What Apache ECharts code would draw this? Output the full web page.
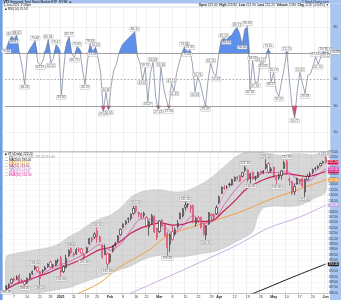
<!DOCTYPE html>
<html><head><meta charset="utf-8">
<script src="https://cdn.jsdelivr.net/npm/echarts@6/dist/echarts.min.js"></script>
<style>html,body{margin:0;padding:0;background:#fff}#c{width:341px;height:300px}</style>
</head><body><div id="c"></div>
<script>
const dates = [
'2020-12-02','2020-12-03','2020-12-04','2020-12-07','2020-12-08','2020-12-09','2020-12-10','2020-12-11','2020-12-14','2020-12-15','2020-12-16','2020-12-17','2020-12-18','2020-12-21','2020-12-22','2020-12-23','2020-12-24','2020-12-28','2020-12-29','2020-12-30','2020-12-31',
'2021-01-04','2021-01-05','2021-01-06','2021-01-07','2021-01-08','2021-01-11','2021-01-12','2021-01-13','2021-01-14','2021-01-15','2021-01-19','2021-01-20','2021-01-21','2021-01-22','2021-01-25','2021-01-26','2021-01-27','2021-01-28','2021-01-29',
'2021-02-01','2021-02-02','2021-02-03','2021-02-04','2021-02-05','2021-02-08','2021-02-09','2021-02-10','2021-02-11','2021-02-12','2021-02-16','2021-02-17','2021-02-18','2021-02-19','2021-02-22','2021-02-23','2021-02-24','2021-02-25','2021-02-26',
'2021-03-01','2021-03-02','2021-03-03','2021-03-04','2021-03-05','2021-03-08','2021-03-09','2021-03-10','2021-03-11','2021-03-12','2021-03-15','2021-03-16','2021-03-17','2021-03-18','2021-03-19','2021-03-22','2021-03-23','2021-03-24','2021-03-25','2021-03-26','2021-03-29','2021-03-30','2021-03-31',
'2021-04-01','2021-04-05','2021-04-06','2021-04-07','2021-04-08','2021-04-09','2021-04-12','2021-04-13','2021-04-14','2021-04-15','2021-04-16','2021-04-19','2021-04-20','2021-04-21','2021-04-22','2021-04-23','2021-04-26','2021-04-27','2021-04-28','2021-04-29','2021-04-30',
'2021-05-03','2021-05-04','2021-05-05','2021-05-06','2021-05-07','2021-05-10','2021-05-11','2021-05-12','2021-05-13','2021-05-14','2021-05-17','2021-05-18','2021-05-19','2021-05-20','2021-05-21','2021-05-24','2021-05-25','2021-05-26','2021-05-27','2021-05-28',
'2021-06-01'];

const tickLabels = {'2020-12-07':'7','2020-12-14':'14','2020-12-21':'21','2020-12-28':'28','2021-01-04':'2021','2021-01-11':'11','2021-01-19':'19','2021-01-25':'25','2021-02-01':'Feb','2021-02-08':'8','2021-02-16':'16','2021-02-22':'22','2021-03-01':'Mar','2021-03-08':'8','2021-03-15':'15','2021-03-22':'22','2021-03-29':'29','2021-04-01':'Apr','2021-04-12':'12','2021-04-19':'19','2021-04-26':'26','2021-05-03':'May','2021-05-10':'10','2021-05-17':'17','2021-05-24':'24','2021-06-01':'Jun'};

const opens = [
187.2,187.8,188.7,189.9,189.9,190.8,189.5,189.2,188.8,190.1,
191.4,192.6,193.1,190.0,192.0,192.5,193.3,194.6,193.8,193.7,
195.0,195.6,191.9,193.0,196.3,198.3,196.5,196.9,198.1,198.2,
196.6,197.2,199.6,201.2,201.5,203.2,201.5,199.0,196.6,196.9,
194.7,197.6,199.3,200.3,202.1,204.2,205.2,206.4,206.6,208.0,
209.9,207.9,207.9,208.0,206.9,204.2,205.3,207.1,203.8,203.0,
206.2,204.9,202.2,199.5,203.0,202.3,204.5,206.6,207.3,209.7,
210.5,210.0,210.2,205.2,206.7,206.9,205.0,202.0,205.1,207.8,
207.6,207.9,211.0,213.6,215.1,215.3,216.0,215.9,217.1,218.0,
218.4,218.3,219.9,220.0,217.6,219.4,217.9,218.0,219.6,219.3,
220.6,221.8,219.8,220.7,217.9,217.8,218.5,220.5,222.4,217.2,
216.8,214.0,216.2,217.3,217.6,213.9,217.4,218.9,219.4,220.5,
220.6,221.2,222.0,223.4];
const closes = [
187.9,188.3,189.8,189.6,190.4,189.1,189.0,188.4,190.0,191.3,
191.9,193.2,192.1,191.8,192.2,193.0,194.0,193.2,193.5,194.8,
195.0,191.8,193.3,195.6,197.8,197.2,196.7,198.0,197.9,197.0,
196.1,198.5,201.0,200.7,202.3,201.6,200.4,195.9,197.8,194.0,
196.6,198.9,199.7,201.8,203.6,205.0,205.9,206.6,207.8,209.4,
208.7,208.2,206.9,207.5,204.6,205.8,207.4,202.9,201.4,205.9,
204.6,201.9,198.6,202.2,200.8,203.5,205.3,208.0,209.3,210.3,
210.4,209.4,205.6,206.6,206.0,204.2,202.2,204.6,208.2,207.4,
207.0,209.6,212.6,215.2,215.0,215.3,216.1,217.4,218.0,217.8,
216.9,219.3,220.6,217.3,219.0,217.6,217.7,219.3,219.2,219.7,
221.5,219.5,220.3,218.4,217.3,218.6,219.8,222.0,219.0,217.4,
213.6,215.5,217.6,216.8,215.6,217.4,218.3,218.6,220.1,220.4,
221.0,221.8,222.3,222.2];
const lows = [
186.9,187.4,188.5,189.1,189.6,188.8,188.6,188.0,188.5,189.8,
191.0,192.3,191.7,188.2,191.4,192.2,193.0,192.9,192.8,193.5,
194.3,190.6,191.5,192.8,196.0,196.7,195.9,196.5,197.3,196.7,
195.3,197.0,199.4,200.0,201.0,199.8,199.9,195.5,196.5,192.8,
194.2,197.3,198.8,200.1,201.9,203.9,204.8,205.4,206.1,207.7,
208.2,206.9,206.4,206.8,204.1,201.9,205.0,202.6,200.6,202.6,
204.3,201.6,196.3,197.3,200.4,201.9,203.9,206.4,207.0,208.9,
209.6,208.2,205.3,204.3,205.4,203.8,201.9,200.7,204.8,206.2,
206.2,207.6,210.6,213.4,214.5,214.8,215.4,215.7,216.8,217.3,
216.7,218.0,219.5,216.6,216.3,217.3,217.0,217.8,218.8,218.9,
220.2,219.0,219.2,217.9,216.0,217.3,217.4,220.3,218.7,215.8,
213.2,213.1,216.0,216.1,215.3,212.6,217.1,218.1,218.9,219.9,
220.2,221.1,221.8,221.9];
const highs = [
188.2,188.7,190.0,190.3,190.9,191.2,189.9,189.6,190.3,191.5,
192.2,193.6,193.3,192.1,192.6,193.5,194.2,194.9,194.0,195.1,
195.5,196.3,193.7,196.6,198.0,198.6,197.3,198.4,198.6,198.5,
196.9,198.8,201.3,201.5,202.8,204.1,201.9,199.3,199.4,197.0,
196.9,199.2,200.2,202.0,203.8,205.3,206.1,206.9,208.0,210.1,
210.2,208.5,208.2,208.5,207.3,206.0,207.9,207.5,204.0,206.1,
206.4,205.1,203.0,202.5,204.6,204.1,206.2,208.3,209.5,211.2,
210.9,210.5,210.4,206.9,207.3,207.1,205.3,204.8,208.4,208.0,
208.0,210.3,212.9,215.5,215.8,215.8,216.5,217.6,218.2,218.4,
218.6,219.5,221.1,220.2,219.3,219.6,218.4,219.6,219.8,220.0,
223.0,222.2,220.8,221.0,218.2,219.0,220.0,222.6,222.8,218.0,
217.0,216.3,217.9,217.5,217.8,217.6,219.0,219.5,220.4,220.9,
221.3,222.1,222.6,223.8];

const rsi = [
73.52,79.14,82.55,80.87,83.61,70.12,60.33,46.28,68.41,73.06,
76.22,79.48,62.87,61.15,64.30,72.18,80.34,62.55,66.07,76.41,
74.12,38.46,60.25,78.03,82.37,69.31,66.72,74.85,73.16,58.44,
46.19,64.27,76.94,71.08,74.43,66.35,55.12,25.87,40.36,26.95,
45.22,57.18,61.40,70.05,75.33,78.11,80.24,82.06,84.17,86.31,
67.94,62.18,49.65,58.92,33.27,55.14,63.08,36.21,27.43,59.36,
44.12,35.08,27.96,47.15,41.33,55.27,63.12,70.18,74.86,71.04,
72.31,62.15,40.58,51.76,47.20,38.12,29.47,50.13,62.25,55.08,
52.43,68.17,80.05,81.22,80.14,82.36,83.48,87.12,89.71,85.07,
76.52,88.14,90.63,42.18,64.05,47.31,48.02,63.17,62.08,66.23,
73.45,48.27,55.19,41.06,37.22,48.13,58.04,71.25,50.17,30.08,
20.71,41.36,55.42,47.11,39.28,53.07,54.16,60.03,67.14,61.52,
67.05,70.86,70.12,70.53];

// Bollinger band edges read at sampled bars [barIndex, value]
const bbUpper = [[0,196.0],[4,197.0],[8,197.5],[12,198.0],[16,198.5],[20,199.5],[24,201.5],[28,203.0],[32,205.0],[36,206.5],[40,207.5],[44,209.5],[48,212.5],[52,214.0],[56,214.5],[60,214.5],[64,214.0],[68,214.0],[72,215.0],[76,216.5],[80,218.5],[84,221.0],[88,223.5],[92,225.0],[95,225.3],[97,225.2],[99,224.8],[102,224.5],[106,224.0],[110,224.5],[114,224.5],[118,224.2],[123,224.8]];
const bbLower = [[0,184.0],[4,184.5],[8,185.5],[12,186.0],[16,186.5],[20,187.0],[24,187.5],[28,188.5],[32,189.5],[36,190.5],[40,191.5],[44,192.5],[48,193.5],[52,195.0],[56,196.0],[60,196.5],[64,196.0],[68,196.0],[72,196.5],[76,197.0],[80,197.5],[84,198.5],[88,200.0],[92,201.5],[95,203.0],[97,207.5],[99,209.5],[102,210.0],[106,210.0],[110,210.0],[114,210.5],[118,212.0],[123,214.0]];
const ma20 = [[0,187.0],[4,188.5],[8,189.5],[12,190.5],[16,191.5],[20,192.8],[24,193.8],[28,195.0],[32,196.5],[36,198.0],[40,198.6],[44,200.3],[48,202.5],[52,204.0],[56,205.0],[60,205.3],[64,204.8],[68,205.0],[72,205.8],[76,205.8],[80,206.3],[84,208.8],[88,211.5],[92,214.5],[96,216.3],[100,217.6],[104,218.4],[108,219.0],[112,218.6],[116,218.2],[120,218.9],[123,219.6]];
const ema10 = [[0,187.0],[4,188.8],[8,189.2],[12,190.6],[16,192.2],[20,193.6],[24,194.6],[28,196.0],[32,197.6],[36,199.4],[40,197.8],[44,199.5],[48,203.4],[52,206.5],[56,206.4],[60,205.0],[64,202.5],[68,204.6],[72,207.4],[76,205.3],[80,206.0],[84,210.5],[88,214.3],[92,217.3],[96,218.2],[100,219.3],[104,219.3],[108,219.6],[112,217.6],[116,216.9],[120,218.8],[123,220.3]];
const ema5 = [[0,187.4],[2,188.6],[4,189.6],[6,189.5],[8,189.3],[10,190.6],[12,191.6],[14,192.0],[16,193.0],[18,193.3],[20,194.3],[22,193.4],[24,195.5],[26,196.7],[28,197.5],[30,196.8],[32,199.0],[34,201.0],[36,200.9],[38,198.0],[40,196.6],[42,198.6],[44,201.8],[46,204.3],[48,206.4],[50,208.2],[52,207.8],[54,206.2],[56,206.3],[58,203.8],[60,204.3],[62,201.0],[64,201.2],[66,203.5],[68,207.0],[70,209.4],[72,207.6],[74,206.2],[76,203.8],[78,205.6],[80,206.9],[82,210.2],[84,213.6],[86,215.2],[88,216.9],[90,217.1],[92,219.0],[94,218.4],[96,218.0],[98,218.8],[100,220.3],[102,220.1],[104,218.3],[106,219.0],[108,219.7],[110,216.3],[112,216.2],[114,216.1],[116,217.0],[118,218.9],[120,220.1],[122,221.5],[123,221.8]];
const ma50 = [[0,180.0],[10,182.0],[20,184.0],[26,185.4],[36,188.8],[43,192.9],[55,197.9],[62,201.8],[74,204.8],[89,208.1],[101,211.7],[112,214.5],[123,217.3]];
const ma100 = [[0,172.0],[20,178.0],[35,182.5],[46,185.4],[62,190.4],[74,194.3],[89,199.3],[101,204.0],[113,207.0],[123,210.3]];
const ma200 = [[80,181.6],[92,185.0],[100,187.3],[110,190.3],[123,194.0]];

const FONT = 'Liberation Sans, Arial, sans-serif';
const N = dates.length;
const last = N - 1;
const isTick = (idx, val) => tickLabels[val !== undefined ? val : dates[idx]] !== undefined;
const tickInt = (idx) => tickLabels[dates[idx]] !== undefined;

const candleData = dates.map((d, i) => {
  const prev = i > 0 ? closes[i - 1] : opens[i];
  const col = closes[i] >= prev ? '#111111' : '#d3143c';
  return { value: [opens[i], closes[i], lows[i], highs[i]],
    itemStyle: { color: '#ffffff', color0: col, borderColor: col, borderColor0: col, borderWidth: 0.6 } };
});

function localExt(arr, w, isMax) {
  const out = [];
  for (let i = 0; i < arr.length; i++) {
    let ok = true;
    for (let j = Math.max(0, i - w); j <= Math.min(arr.length - 1, i + w); j++) {
      if (j === i) continue;
      if (isMax ? (arr[j] > arr[i] || (arr[j] === arr[i] && j < i)) : (arr[j] < arr[i] || (arr[j] === arr[i] && j < i))) { ok = false; break; }
    }
    if (ok) out.push([i, arr[i]]);
  }
  return out;
}
const priceHighPts = localExt(highs, 4, true);
const priceLowPts = localExt(lows, 4, false);
const rsiMaxPts = localExt(rsi, 1, true);
const rsiMinPts = localExt(rsi, 1, false);

const boxLabel = (pos) => ({ show: true, position: pos, distance: 0.8, fontSize: 3.2, fontFamily: FONT, color: '#333',
  backgroundColor: '#ffffff', borderColor: '#9a9a9a', borderWidth: 0.4, padding: [0.5, 0.7, 0.2, 0.7],
  formatter: p => p.value[1].toFixed(2) });

function lineSeries(name, data, color, width) {
  return { name, type: 'line', xAxisIndex: 2, yAxisIndex: 1, data, symbol: 'none', smooth: 0.3,
    lineStyle: { color, width }, silent: true, z: 3,
    endLabel: { show: true, distance: 2.2, fontSize: 3.2, fontFamily: FONT, color: '#fff', backgroundColor: color,
      padding: [0.5, 0.6, 0.2, 0.6], formatter: p => p.value[1].toFixed(2) } };
}

const colors = { ma20: '#c42458', ema10: '#d63fa6', ema5: '#ec86cf', ma50: '#f0a040', ma100: '#c4a6dc', ma200: '#1a1a1a' };

const chart = echarts.init(document.getElementById('c'), null, { renderer: 'canvas' });

const lastOf = a => a[a.length - 1][1];
const legendRows = [
  ['■ VTI (Daily) ' + closes[last].toFixed(2), '#000'],
  ['— BB(20,2.0) ' + lastOf(bbUpper).toFixed(2) + ' ' + ((lastOf(bbUpper) + lastOf(bbLower)) / 2).toFixed(2) + ' ' + lastOf(bbLower).toFixed(2), '#8a8a8a'],
  ['— MA(200) ' + lastOf(ma200).toFixed(2), '#000'],
  ['— MA(50) ' + lastOf(ma50).toFixed(2), '#e8901c'],
  ['— MA(20) ' + lastOf(ma20).toFixed(2), '#8c1c3c'],
  ['— MA(100) ' + lastOf(ma100).toFixed(2), '#a884cc'],
  ['— EMA(5) ' + lastOf(ema5).toFixed(2), '#e060b8'],
  ['— EMA(10) ' + lastOf(ema10).toFixed(2), '#d0208a']
];
const chg = closes[last] - closes[last - 1];

const graphics = [
  { type: 'rect', shape: { x: 0, y: 0, width: 341, height: 3.6 }, style: { fill: '#a9c4ee' }, z: -10 },
  { type: 'rect', shape: { x: 330, y: 3.6, width: 11, height: 296.4 }, style: { fill: '#a8c6f0' }, z: -10 },
  { type: 'rect', shape: { x: 0, y: 0, width: 2.6, height: 300 }, style: { fill: '#6f9de6' }, z: -9 },
  { type: 'line', shape: { x1: 2.6, y1: 7, x2: 330, y2: 7 }, style: { stroke: '#bbbbbb', lineWidth: 0.5 }, z: 5 },
  { type: 'line', shape: { x1: 2.6, y1: 151.8, x2: 330, y2: 151.8 }, style: { stroke: '#888888', lineWidth: 0.7 }, z: 5 },
  { type: 'text', x: 3.5, y: 0.3, style: { text: '{b|VTI} Vanguard Total Stock Market ETF  NYSE  \u2295', fontSize: 3.2, fontFamily: FONT, fill: '#111',
      rich: { b: { fontWeight: 'bold', fontSize: 3.4, fontFamily: FONT, fill: '#111' } } }, z: 20 },
  { type: 'text', x: 329, y: 0.3, style: { text: '\u00a9 StockCharts.com', fontSize: 3.2, fontFamily: FONT, fill: '#333', align: 'right' }, z: 20 },
  { type: 'text', x: 3.5, y: 3.9, style: { text: '1-Jun-2021 3:58pm', fontSize: 3.2, fontFamily: FONT, fill: '#222' }, z: 20 },
  { type: 'text', x: 329, y: 3.9, style: {
      text: '{b|Open} ' + opens[last].toFixed(2) + '  {b|High} ' + highs[last].toFixed(2) + '  {b|Low} ' + lows[last].toFixed(2) +
            '  {b|Last} ' + closes[last].toFixed(2) + '  {b|Volume} 2.5M  {b|Chg} ' + chg.toFixed(2) + ' (' + (chg / closes[last - 1] * 100).toFixed(2) + '%) \u25bc',
      fontSize: 3.2, fontFamily: FONT, fill: '#222', align: 'right',
      rich: { b: { fontWeight: 'bold', fontSize: 3.2, fontFamily: FONT, fill: '#111' } } }, z: 20 },
  { type: 'text', x: 5, y: 7.8, style: { text: '\u25a0 RSI(14) ' + rsi[last].toFixed(2), fontSize: 3.2, fontFamily: FONT, fill: '#222' }, z: 20 }
];
legendRows.forEach((r, k) => {
  graphics.push({ type: 'text', x: 5, y: 152.4 + k * 3.05, style: { text: r[0], fontSize: 3.1, fontFamily: FONT, fill: r[1] }, z: 20 });
});

const option = {
  animation: false,
  textStyle: { fontFamily: FONT },
  graphic: graphics,
  grid: [
    { left: 5, right: 11, top: 7, height: 145 },
    { left: 5, right: 11, top: 152, height: 141 }
  ],
  xAxis: [
    { type: 'category', gridIndex: 0, data: dates, axisLine: { show: false }, axisTick: { show: false }, axisLabel: { show: false },
      splitLine: { show: true, interval: tickInt, lineStyle: { color: '#e2e2e2', width: 0.5 } } },
    { type: 'category', gridIndex: 1, data: dates,
      axisLine: { show: true, lineStyle: { color: '#999', width: 0.5 } },
      axisTick: { show: true, interval: tickInt, length: 1.5, lineStyle: { color: '#999', width: 0.5 } },
      axisLabel: { show: true, interval: tickInt, margin: 1.6, fontSize: 3.5, color: '#333', fontFamily: FONT,
        formatter: v => { const t = tickLabels[v]; if (!t) return ''; return /^\d{1,2}$/.test(t) ? t : '{b|' + t + '}'; },
        rich: { b: { fontWeight: 'bold', fontSize: 3.5, color: '#222', fontFamily: FONT } } },
      splitLine: { show: true, interval: tickInt, lineStyle: { color: '#e2e2e2', width: 0.5 } } },
    { type: 'value', gridIndex: 1, min: -0.5, max: N - 0.5, show: false }
  ],
  yAxis: [
    { type: 'value', gridIndex: 0, min: -5, max: 105, position: 'right',
      axisLine: { show: false }, axisTick: { show: false }, splitLine: { show: false },
      axisLabel: { customValues: [10, 30, 50, 70, 90], fontSize: 3.5, color: '#333', margin: 3.5, fontFamily: FONT } },
    { type: 'value', gridIndex: 1, min: 186, max: 225, interval: 1.5, position: 'right',
      axisLine: { show: false }, axisTick: { show: false },
      splitLine: { show: true, lineStyle: { color: '#efefef', width: 0.5 } },
      axisLabel: { fontSize: 3.1, color: '#333', margin: 1.6, fontFamily: FONT, formatter: v => v.toFixed(2) } }
  ],
  series: [
    { type: 'custom', xAxisIndex: 2, yAxisIndex: 1, silent: true, z: 1,
      data: bbUpper.map((p, k) => [p[0], p[1], bbLower[k][1]]),
      encode: { x: 0, y: [1, 2] },
      renderItem: function (params, api) {
        if (params.dataIndex !== 0) return { type: 'group', children: [] };
        const pts = [];
        for (let k = 0; k < bbUpper.length; k++) pts.push(api.coord([bbUpper[k][0], bbUpper[k][1]]));
        for (let k = bbLower.length - 1; k >= 0; k--) pts.push(api.coord([bbLower[k][0], bbLower[k][1]]));
        const cs = params.coordSys;
        return { type: 'polygon', shape: { points: pts, smooth: 0.25 },
          style: { fill: 'rgba(150,150,150,0.38)', stroke: '#bdbdbd', lineWidth: 0.5 },
          clipPath: { type: 'rect', shape: { x: cs.x, y: cs.y, width: cs.width, height: cs.height } } };
      } },
    lineSeries('MA(100)', ma100, colors.ma100, 0.9),
    lineSeries('MA(200)', ma200, colors.ma200, 1.0),
    lineSeries('MA(50)', ma50, colors.ma50, 1.0),
    lineSeries('MA(20)', ma20, colors.ma20, 1.2),
    lineSeries('EMA(10)', ema10, colors.ema10, 0.7),
    lineSeries('EMA(5)', ema5, colors.ema5, 0.7),
    { type: 'candlestick', xAxisIndex: 1, yAxisIndex: 1, data: candleData, barWidth: 1.7, z: 5, silent: true,
      markPoint: { symbol: 'rect', symbolSize: [10.5, 4.2], symbolOffset: [7.3, 0], silent: true,
        itemStyle: { color: '#d3143c' },
        label: { show: true, color: '#fff', fontSize: 3.2, fontFamily: FONT, formatter: () => closes[last].toFixed(2) },
        data: [{ coord: [dates[last], closes[last]] }] } },
    { type: 'scatter', xAxisIndex: 1, yAxisIndex: 1, data: priceHighPts, symbolSize: 0.01, silent: true, z: 8, label: boxLabel('top') },
    { type: 'scatter', xAxisIndex: 1, yAxisIndex: 1, data: priceLowPts, symbolSize: 0.01, silent: true, z: 8, label: boxLabel('bottom') },
    { type: 'line', xAxisIndex: 0, yAxisIndex: 0, data: rsi.map(v => Math.max(v, 70)), symbol: 'none', silent: true, z: 2,
      lineStyle: { width: 0, opacity: 0 }, areaStyle: { color: '#5d8fec', origin: 70, opacity: 1 } },
    { type: 'line', xAxisIndex: 0, yAxisIndex: 0, data: rsi.map(v => Math.min(v, 30)), symbol: 'none', silent: true, z: 2,
      lineStyle: { width: 0, opacity: 0 }, areaStyle: { color: '#e2457a', origin: 30, opacity: 1 } },
    { type: 'line', xAxisIndex: 0, yAxisIndex: 0, data: rsi, symbol: 'none', silent: true, z: 4,
      lineStyle: { color: '#717c93', width: 0.7 },
      endLabel: { show: true, distance: 2.4, fontSize: 3.2, fontFamily: FONT, color: '#111', backgroundColor: '#ffffff',
        borderColor: '#888', borderWidth: 0.4, padding: [0.5, 0.6, 0.2, 0.6], formatter: p => Number(p.value).toFixed(2) },
      markLine: { silent: true, symbol: 'none', label: { show: false },
        data: [
          { yAxis: 90, lineStyle: { color: '#e4e4e4', width: 0.5, type: 'solid' } },
          { yAxis: 10, lineStyle: { color: '#e4e4e4', width: 0.5, type: 'solid' } },
          { yAxis: 70, lineStyle: { color: '#7a7a7a', width: 0.7, type: 'solid' } },
          { yAxis: 30, lineStyle: { color: '#7a7a7a', width: 0.7, type: 'solid' } },
          { yAxis: 50, lineStyle: { color: '#8a8a8a', width: 0.6, type: [2, 1.5] } }
        ] } },
    { type: 'scatter', xAxisIndex: 0, yAxisIndex: 0, data: rsiMaxPts, symbolSize: 0.01, silent: true, z: 8, label: boxLabel('top') },
    { type: 'scatter', xAxisIndex: 0, yAxisIndex: 0, data: rsiMinPts, symbolSize: 0.01, silent: true, z: 8, label: boxLabel('bottom') }
  ]
};
chart.setOption(option);
</script>
</body></html>
